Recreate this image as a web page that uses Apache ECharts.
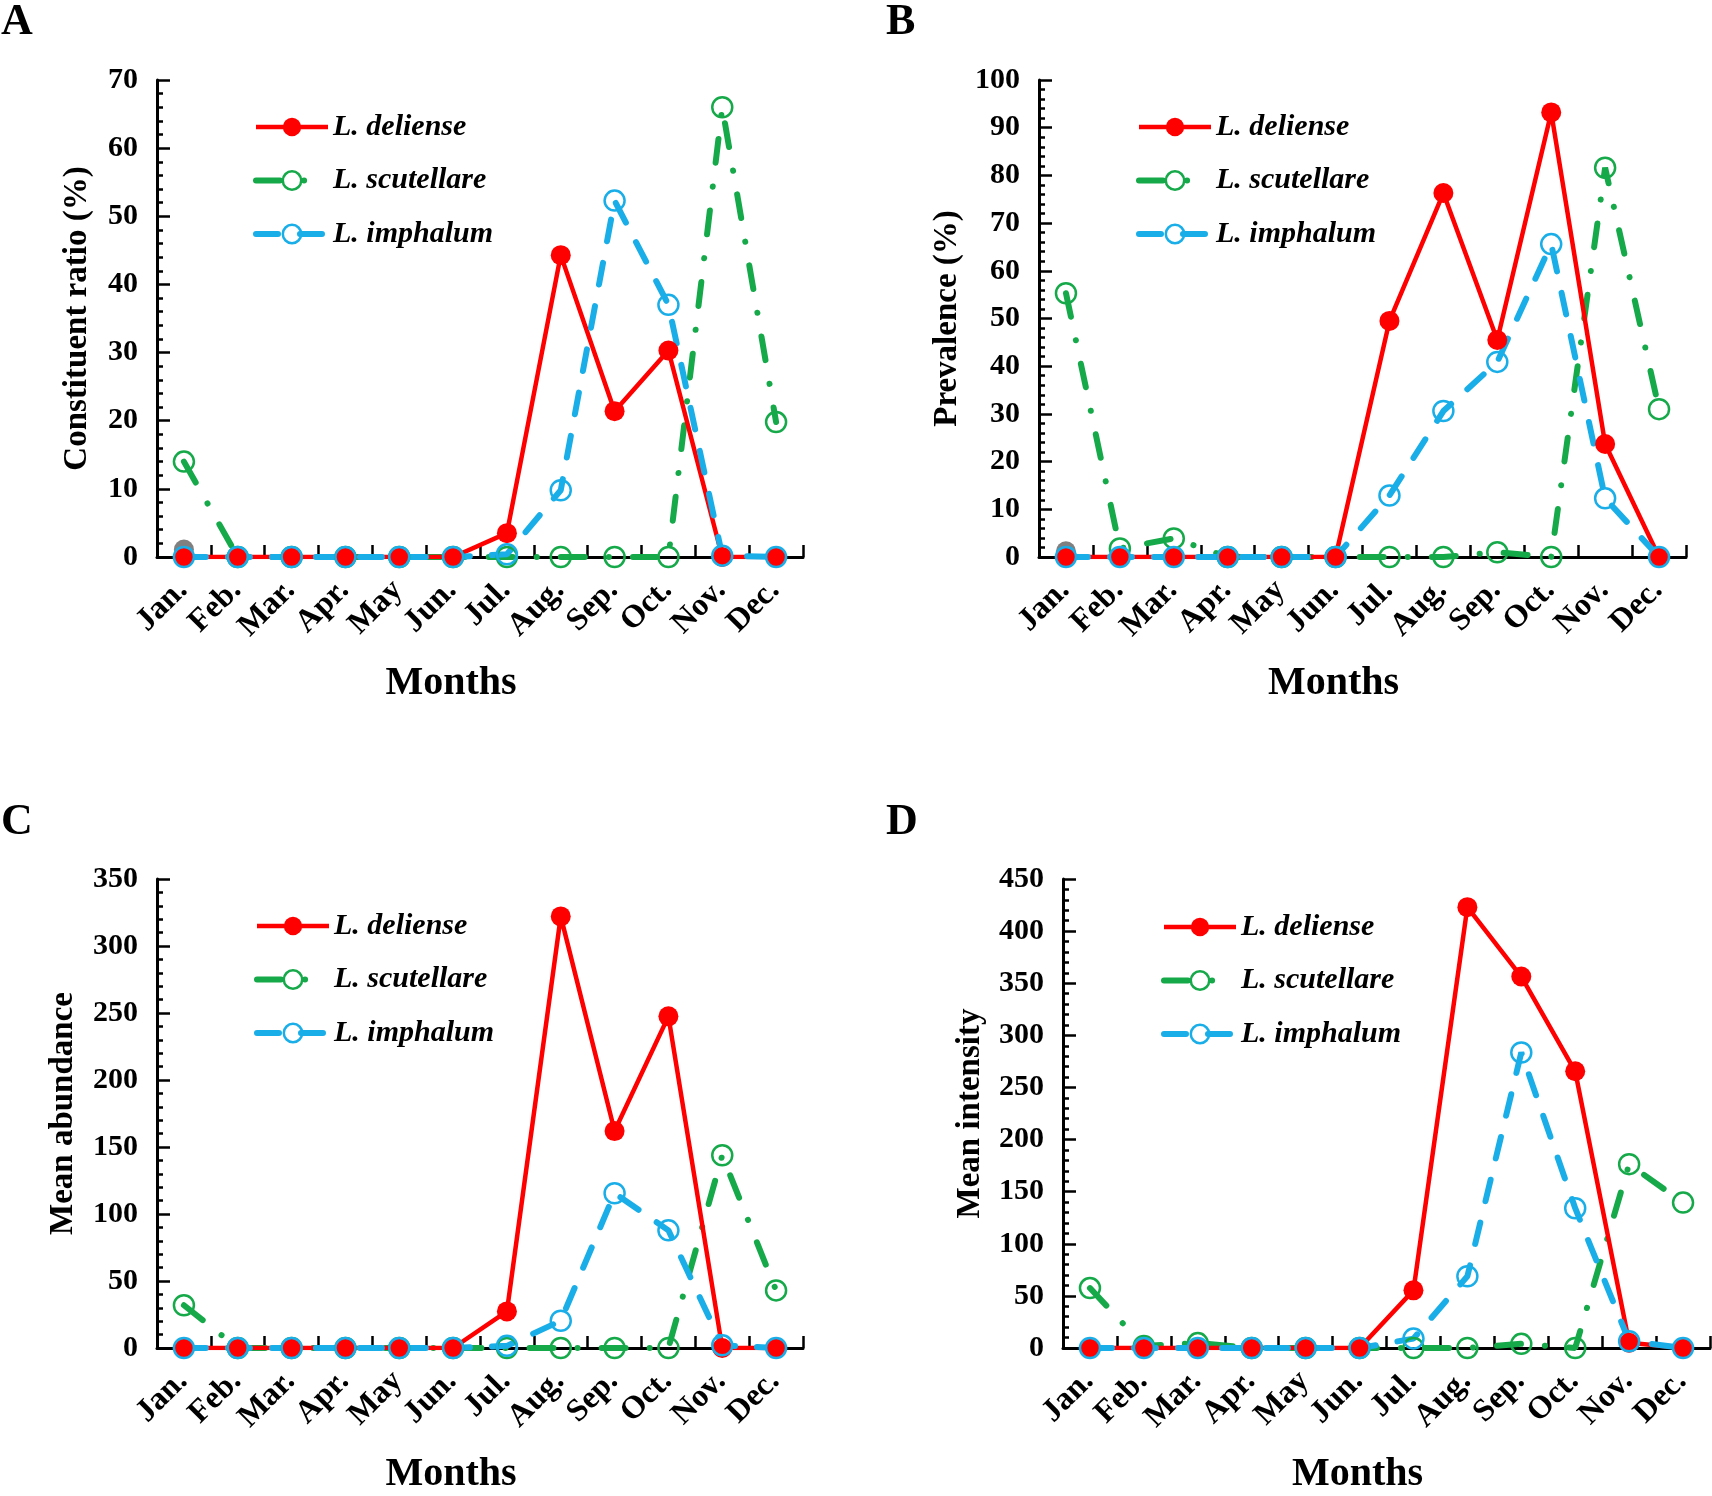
<!DOCTYPE html>
<html>
<head>
<meta charset="utf-8">
<script src="https://cdn.jsdelivr.net/npm/echarts@6/dist/echarts.min.js"></script>
<style>
html,body{margin:0;padding:0;background:#ffffff;}
#chart{width:1712px;height:1496px;}
</style>
</head>
<body>
<div id="chart"></div>
<script>
// ---------- data ----------
const months = ['Jan.','Feb.','Mar.','Apr.','May','Jun.','Jul.','Aug.','Sep.','Oct.','Nov.','Dec.'];
const speciesNames = ['L. deliense','L. scutellare','L. imphalum'];
const panelLetters = ['A','B','C','D'];
const yAxisTitles = ['Constituent ratio (%)','Prevalence (%)','Mean abundance','Mean intensity'];
const yAxisMax = [70, 100, 350, 450];
const yAxisStep = [10, 10, 50, 50];

// A: constituent ratio (%)
const ratioDeliense   = [0,0,0,0,0,0,3.5,44.3,21.4,30.3,0,0];
const ratioScutellare = [14,0,0,0,0,0,0,0,0,0,66,19.8];
const ratioImphalum   = [0,0,0,0,0,0,0.4,9.8,52.3,37,0.2,0];
const ratioGrey       = [1.1,null,null,null,null,null,null,null,null,null,null,null];

// B: prevalence (%)
const prevDeliense   = [0,0,0,0,0,0,49.5,76.3,45.5,93.2,23.7,0];
const prevScutellare = [55.3,1.8,3.9,0,0,0,0,0,1,0,81.6,31];
const prevImphalum   = [0,0,0,0,0,0,12.9,30.6,40.9,65.6,12.3,0];
const prevGrey       = [1.2,null,null,null,null,null,null,null,null,null,null,null];

// C: mean abundance
const abunDeliense   = [0,0,0,0,0,0,27.3,322.1,161.9,247.5,0,0];
const abunScutellare = [31.9,0,0,0,0,0,0,0,0,0,143.8,43];
const abunImphalum   = [0,0,0,0,0,0,1.6,20.3,115.5,87.8,2,0];
const abunGrey       = [0,null,null,null,null,null,null,null,null,null,null,null];

// D: mean intensity
const intDeliense   = [0,0,0,0,0,0,55.3,423,356.4,265.5,5,0];
const intScutellare = [57.5,2,4.7,0,0,0,0,0,4,0,176.4,139.5];
const intImphalum   = [0,0,0,0,0,0,9,68.8,283.5,134.1,6.5,0];
const intGrey       = [0,null,null,null,null,null,null,null,null,null,null,null];

const panelData = [
  [ratioDeliense, ratioScutellare, ratioImphalum, ratioGrey],
  [prevDeliense, prevScutellare, prevImphalum, prevGrey],
  [abunDeliense, abunScutellare, abunImphalum, abunGrey],
  [intDeliense, intScutellare, intImphalum, intGrey]
];

// ---------- layout / style ----------
const FONT = "'Liberation Serif','Times New Roman',serif";
const RED = '#ff0000', GREEN = '#16a94a', BLUE = '#1aaee8', GREY = '#808080';

const grids = [
  {left:157,  top:80,  width:646, height:477},
  {left:1039, top:80,  width:647, height:477},
  {left:157,  top:879, width:646, height:475},
  {left:1063, top:879, width:647, height:477}
];
const letterPos = [{left:1,top:1},{left:886,top:1},{left:1,top:801},{left:886,top:801}];
const legendPos = [{left:253,top:112},{left:1136,top:112},{left:254,top:911},{left:1161,top:912}];
const yNameGap = [63, 75, 77, 76];

const option = {
  animation:false,
  backgroundColor:'#ffffff',
  title:[], grid:[], xAxis:[], yAxis:[], legend:[], series:[]
};

for (let p = 0; p < 4; p++) {
  option.title.push({
    text: panelLetters[p], left: letterPos[p].left, top: letterPos[p].top, padding:0,
    textStyle:{fontFamily:FONT, fontWeight:'bold', fontSize:44, color:'#000'}
  });
  option.grid.push(Object.assign({containLabel:false}, grids[p]));
  option.xAxis.push({
    type:'category', gridIndex:p, data:months, boundaryGap:true,
    name:'Months', nameLocation:'middle', nameGap:107,
    nameTextStyle:{fontFamily:FONT, fontWeight:'bold', fontSize:40, color:'#000', padding:[0,58,0,0]},
    axisLine:{show:true, lineStyle:{color:'#000', width:3}},
    axisTick:{show:true, inside:true, length:12, alignWithLabel:false, interval:0, lineStyle:{color:'#000', width:2.5}},
    axisLabel:{show:true, interval:0, rotate:45, margin:27, padding:[0,2,0,0],
      fontFamily:FONT, fontWeight:'bold', fontSize:32, color:'#000'},
    splitLine:{show:false}
  });
  option.yAxis.push({
    type:'value', gridIndex:p, min:0, max:yAxisMax[p], interval:yAxisStep[p],
    name:yAxisTitles[p], nameLocation:'middle', nameGap:yNameGap[p],
    nameTextStyle:{fontFamily:FONT, fontWeight:'bold', fontSize:33, color:'#000'},
    axisLine:{show:true, lineStyle:{color:'#000', width:3}},
    axisTick:{show:true, inside:true, length:13, lineStyle:{color:'#000', width:2.5}},
    minorTick:{show:true, splitNumber:5, length:6, lineStyle:{color:'#000', width:2.5}},
    axisLabel:{show:true, margin:19, fontFamily:FONT, fontWeight:'bold', fontSize:30, color:'#000'},
    splitLine:{show:false}, minorSplitLine:{show:false}
  });
  option.legend.push({
    data: speciesNames.slice(), orient:'vertical',
    left:legendPos[p].left, top:legendPos[p].top, padding:0,
    itemWidth:72, itemHeight:23, itemGap:23.5,
    selectedMode:false,
    lineStyle:{width:'inherit', type:'inherit', cap:'inherit'},
    itemStyle:{borderWidth:'inherit'},
    textStyle:{fontFamily:FONT, fontWeight:'bold', fontStyle:'italic', fontSize:30, color:'#000', lineHeight:30}
  });
  const d = panelData[p];
  // grey point (bottom)
  option.series.push({
    name:'grey', type:'line', xAxisIndex:p, yAxisIndex:p, data:d[3],
    symbol:'circle', symbolSize:20, showSymbol:true,
    itemStyle:{color:GREY}, lineStyle:{width:0}, silent:true
  });
  // L. scutellare (dash-dot, hollow)
  option.series.push({
    name:speciesNames[1], type:'line', xAxisIndex:p, yAxisIndex:p, data:d[1],
    symbol:'circle', symbolSize:20, showSymbol:true,
    itemStyle:{color:'rgba(255,255,255,0)', borderColor:GREEN, borderWidth:2.5},
    lineStyle:{color:GREEN, width:6, type:[24,24,0.1,24], cap:'round'}
  });
  // L. deliense (solid, filled)
  option.series.push({
    name:speciesNames[0], type:'line', xAxisIndex:p, yAxisIndex:p, data:d[0],
    symbol:'circle', symbolSize:20, showSymbol:true,
    itemStyle:{color:RED},
    lineStyle:{color:RED, width:4.5, type:'solid'}
  });
  // L. imphalum (dashed, hollow)
  option.series.push({
    name:speciesNames[2], type:'line', xAxisIndex:p, yAxisIndex:p, data:d[2],
    symbol:'circle', symbolSize:20, showSymbol:true,
    itemStyle:{color:'rgba(255,255,255,0)', borderColor:BLUE, borderWidth:2.5},
    lineStyle:{color:BLUE, width:6, type:[22,22], cap:'round'}
  });
}

const chart = echarts.init(document.getElementById('chart'), null, {renderer:'canvas'});
chart.setOption(option);
</script>
</body>
</html>
